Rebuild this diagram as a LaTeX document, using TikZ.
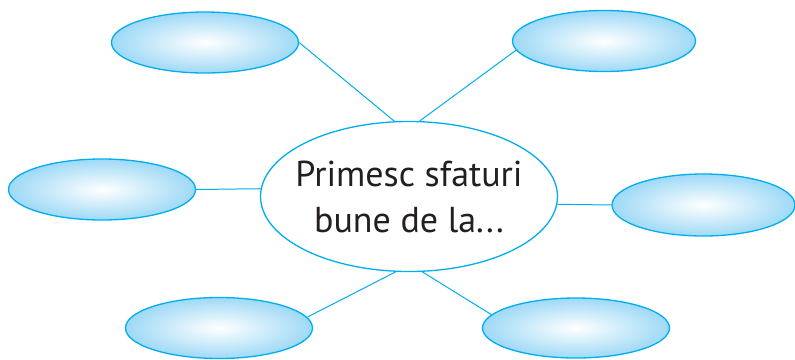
\documentclass[tikz,border=0pt]{standalone}
\usepackage{fontspec}
\setmainfont{PT Sans}
\usetikzlibrary{shapes.geometric}

\definecolor{rim}{RGB}{0,174,239}
\definecolor{bubblefill}{RGB}{158,217,246}
\definecolor{ink}{RGB}{35,31,32}

\begin{document}
\begin{tikzpicture}[x=1pt,y=-1pt,
    bubble/.style={ellipse,draw=rim,line width=1.3pt,inner color=white,outer color=bubblefill,minimum width=187pt,minimum height=61pt,inner sep=0pt},
    spoke/.style={draw=rim,line width=1pt}]
    \useasboundingbox (0,0) rectangle (795,359);
    \node[ellipse,draw=rim,line width=1.3pt,fill=white,minimum width=297pt,minimum height=150pt,inner xsep=-12pt,inner ysep=0pt,align=center,text=ink,font=\fontsize{36}{46}\selectfont] (hub) at (409,196.5) {Primesc sfaturi\\bune de la...};
    \node[bubble] (topleft) at (205,42.5) {};
    \node[bubble,minimum width=183pt] (topright) at (604,41) {};
    \node[bubble] (midleft) at (102,189.5) {};
    \node[bubble,minimum width=183pt,minimum height=62pt] (midright) at (703.5,205) {};
    \node[bubble] (botleft) at (219,328) {};
    \node[bubble,minimum height=60pt] (botright) at (576,328) {};
    \draw[spoke] (topleft.east) -- (hub.101);
    \draw[spoke] (topright.186) -- (hub.82);
    \draw[spoke] (midleft.east) -- (hub.177);
    \draw[spoke] (midright.west) -- (hub.357);
    \draw[spoke] (botleft.7) -- (hub.260);
    \draw[spoke] (botright.171) -- (hub.280);
  \end{tikzpicture}
\end{document}
